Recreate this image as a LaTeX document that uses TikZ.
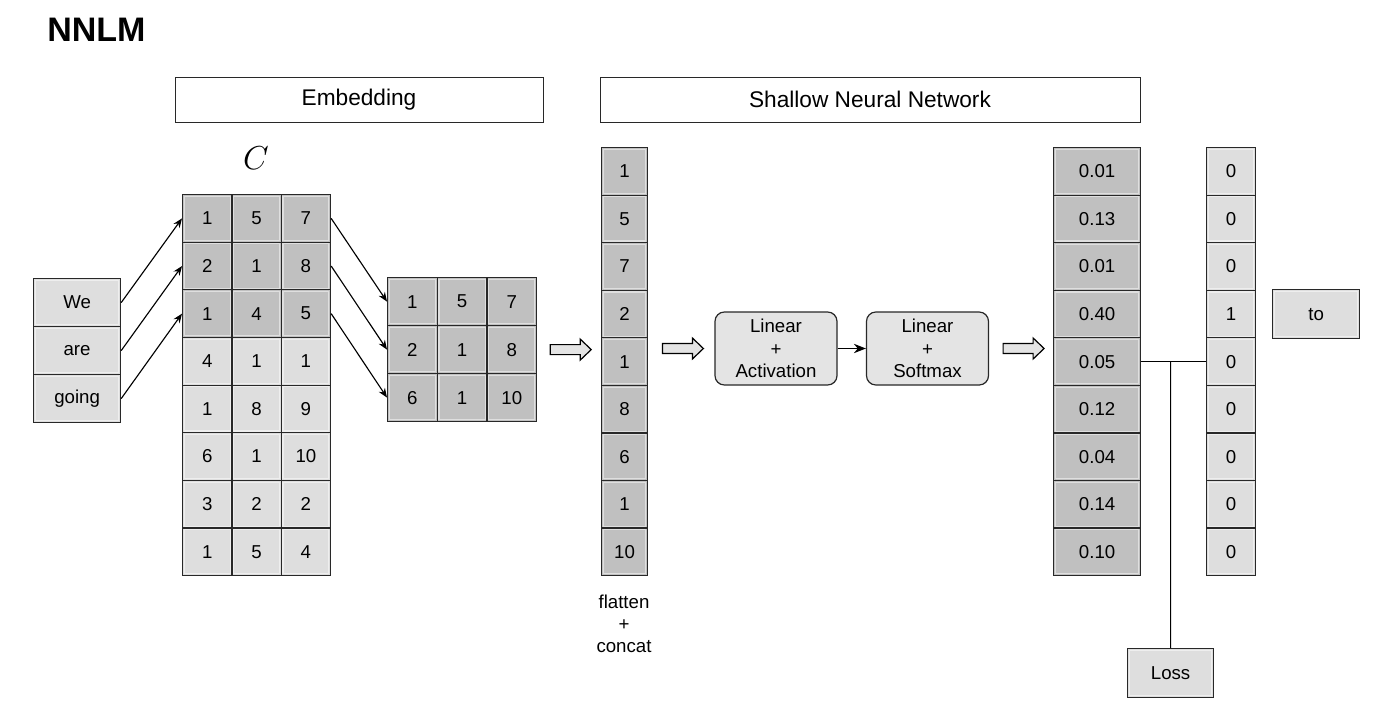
\documentclass[tikz,border=0pt]{standalone}
\usepackage{fontspec}
\setmainfont{Liberation Sans}
\usetikzlibrary{arrows.meta,calc}
\definecolor{cdark}{RGB}{192,192,192}
\definecolor{clight}{RGB}{222,222,222}
\definecolor{cbox}{RGB}{228,228,228}
\definecolor{cline}{RGB}{40,40,40}
\def\pxu{0.75pt}
\tikzset{
  cell/.style={draw=cline, line width=0.9pt, inner sep=0pt, anchor=north west,
    font=\fontsize{14}{17}\selectfont,
    path picture={\draw[white, opacity=0.5, line width=0.8pt]
      ([shift={(1.3pt,-1.3pt)}]path picture bounding box.north west) rectangle
      ([shift={(-1.3pt,1.3pt)}]path picture bounding box.south east);}},
  dk/.style={cell, fill=cdark},
  lt/.style={cell, fill=clight},
  hdr/.style={draw=cline, line width=0.7pt, fill=white, inner sep=0pt,
    font=\fontsize{17}{20}\selectfont},
  rbox/.style={draw=cline, line width=0.9pt, fill=cbox, rounded corners=7pt,
    align=center, inner sep=0pt, minimum width=122*\pxu, minimum height=73*\pxu,
    font=\fontsize{14}{17}\selectfont},
  conn/.style={draw=black, line width=0.85pt, -{Stealth[length=7pt,width=5.5pt]}},
  bigconn/.style={draw=black, line width=0.9pt, -{Stealth[length=9pt,width=7pt]}},
  plain/.style={draw=black, line width=0.8pt},
  harrow/.pic={\draw[fill=cbox, line width=0.9pt, line join=miter]
    (0,-5) -- (30,-5) -- (30,-10.5) -- (41,0) -- (30,10.5) -- (30,5) -- (0,5) -- cycle;}
}
\begin{document}
\begin{tikzpicture}[x=0.75pt,y=-0.75pt]
\useasboundingbox (0,0) rectangle (1400,721);
\fill[white] (0,0) rectangle (1400,721);

% title
\node[anchor=base west, inner sep=0pt, font=\fontsize{25.5}{30}\selectfont\bfseries] (title) at (47,41) {NNLM};

% headers
\node[hdr, minimum width=368*\pxu, minimum height=45*\pxu] (emb) at (359,99.5) {Embedding};
\node[hdr, minimum width=540*\pxu, minimum height=45*\pxu] (snn) at (870,99.5) {Shallow Neural Network};

% C label
\node[font=\fontsize{23}{28}\selectfont, inner sep=0pt] (Clabel) at (256,158) {$C$};

% words
\foreach \w [count=\r] in {We,are,going}
  \node[lt, minimum width=87*\pxu, minimum height=48*\pxu] (w\r) at (33,{278+(\r-1)*48}) {\w};

% C matrix
\foreach \row [count=\r] in {{1,5,7},{2,1,8},{1,4,5},{4,1,1},{1,8,9},{6,1,10},{3,2,2},{1,5,4}}{
  \ifnum\r<4 \def\sty{dk}\else\def\sty{lt}\fi
  \foreach \v [count=\c] in \row
    \node[\sty, minimum width=49.33*\pxu, minimum height=47.625*\pxu] (C-\r-\c)
      at ({182+(\c-1)*49.33},{194+(\r-1)*47.625}) {\v};
}

% selected 3x3
\foreach \row [count=\r] in {{1,5,7},{2,1,8},{6,1,10}}{
  \foreach \v [count=\c] in \row
    \node[dk, minimum width=49.67*\pxu, minimum height=48*\pxu] (E-\r-\c)
      at ({387+(\c-1)*49.67},{277+(\r-1)*48}) {\v};
}

% flattened column
\foreach \v [count=\r] in {1,5,7,2,1,8,6,1,10}
  \node[dk, minimum width=46*\pxu, minimum height=47.56*\pxu] (F\r) at (601,{147+(\r-1)*47.56}) {\v};
\node[align=center, inner sep=0pt, font=\fontsize{14}{16.5}\selectfont] (flat) at (624,624) {flatten\\+\\concat};

% network boxes
\node[rbox] (L1) at (776,348.5) {Linear\\+\\Activation};
\node[rbox] (L2) at (927.5,348.5) {Linear\\+\\Softmax};

% output column
\foreach \v [count=\r] in {0.01,0.13,0.01,0.40,0.05,0.12,0.04,0.14,0.10}
  \node[dk, minimum width=87*\pxu, minimum height=47.56*\pxu] (O\r) at (1053,{147+(\r-1)*47.56}) {\v};

% target column
\foreach \v [count=\r] in {0,0,0,1,0,0,0,0,0}
  \node[lt, minimum width=49*\pxu, minimum height=47.56*\pxu] (T\r) at (1206,{147+(\r-1)*47.56}) {\v};

\node[lt, minimum width=87*\pxu, minimum height=49*\pxu] (to) at (1272,289) {to};
\node[lt, minimum width=86*\pxu, minimum height=49*\pxu] (loss) at (1127,648) {Loss};

% connectors
\foreach \r in {1,2,3} {
  \draw[conn] (w\r.east) -- (C-\r-1.west);
  \draw[conn] (C-\r-3.east) -- (E-\r-1.west);
}
\draw[bigconn] (L1.east) -- (L2.west);

\pic at ($(E-2-3.east)+(13,0)$) {harrow};
\pic at ($(L1.west)+(-52,0)$) {harrow};
\pic at ($(L2.east)+(14,0)$) {harrow};

\draw[plain] (O5.east) -- (T5.west);
\coordinate (j) at ($(O5.east)!0.455!(T5.west)$);
\draw[plain] (j) -- (loss.north);
\end{tikzpicture}
\end{document}
